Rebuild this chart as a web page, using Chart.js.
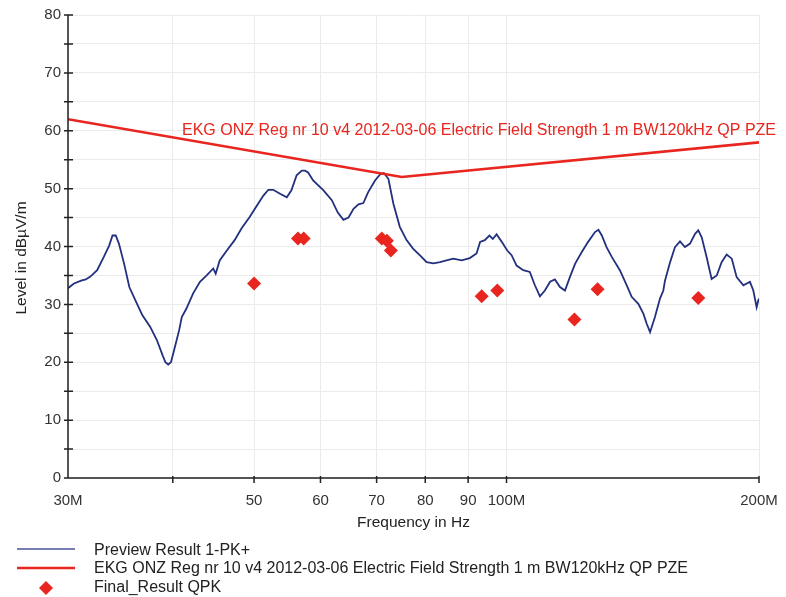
<!DOCTYPE html>
<html>
<head>
<meta charset="utf-8">
<script src="https://cdn.jsdelivr.net/npm/chart.js@4/dist/chart.umd.min.js"></script>
<style>
  html, body { margin: 0; padding: 0; background: #fff; }
</style>
</head>
<body>
<canvas id="chart" width="786" height="597"></canvas>
<script>
// Preview Result 1-PK+ (MHz / dBuV/m)
const previewFreq = [
  30.0, 30.5, 31.1, 31.5, 31.9, 32.5, 33.1, 33.6, 33.9, 34.2, 34.5, 35.0, 35.5, 36.1, 36.8,
  37.6, 38.3, 38.9, 39.2, 39.5, 39.8, 40.1, 40.7, 41.0, 41.5, 42.3, 43.1, 43.9, 44.7, 45.0,
  45.5, 46.4, 47.4, 48.3, 49.4, 50.4, 51.3, 52.0, 52.7, 53.7, 54.7, 55.4, 56.2, 57.0, 57.5,
  58.0, 58.8, 60.5, 61.9, 62.9, 63.9, 64.8, 65.7, 66.6, 67.5, 68.4, 69.7, 70.7, 71.4, 72.3,
  73.3, 74.6, 76.0, 77.4, 78.8, 80.3, 81.8, 83.3, 84.8, 86.4, 88.4, 90.4, 92.1, 93.0, 94.2,
  95.4, 96.3, 97.3, 98.7, 100.2, 101.4, 102.8, 104.7, 106.6, 108.1, 109.6, 111.1, 112.7, 114.2, 115.8,
  117.4, 119.0, 120.7, 122.9, 125.1, 127.5, 128.7, 129.9, 131.6, 133.5, 136.5, 139.1, 141.0, 143.6, 145.6,
  146.9, 148.3, 150.3, 152.4, 153.8, 154.5, 156.7, 158.8, 161.0, 163.2, 165.5, 167.8, 169.3, 170.9, 173.2,
  175.6, 178.1, 180.5, 183.0, 185.6, 188.1, 191.6, 195.1, 196.9, 198.7, 199.6, 200.0
];
const previewLevel = [
  32.8, 33.6, 34.1, 34.3, 34.8, 35.9, 38.2, 40.2, 41.9, 41.9, 40.5, 37.0, 33.0, 30.7, 28.1,
  26.1, 23.8, 21.2, 20.0, 19.6, 20.0, 21.8, 25.5, 27.8, 29.2, 31.9, 33.9, 35.0, 36.2, 35.3,
  37.6, 39.3, 41.1, 43.1, 45.1, 47.1, 48.8, 49.8, 49.8, 49.1, 48.5, 49.7, 52.3, 53.1, 53.1,
  52.8, 51.4, 49.7, 48.0, 45.9, 44.6, 45.0, 46.5, 47.3, 47.5, 49.4, 51.4, 52.5, 52.7, 51.7,
  47.4, 43.4, 41.1, 39.6, 38.5, 37.3, 37.1, 37.3, 37.6, 37.9, 37.6, 38.0, 38.8, 40.8, 41.1,
  41.9, 41.3, 42.1, 40.8, 39.3, 38.5, 36.7, 35.9, 35.6, 33.3, 31.4, 32.4, 33.9, 34.3, 33.0,
  32.4, 34.7, 37.0, 39.0, 40.8, 42.5, 42.9, 41.9, 39.9, 38.2, 35.9, 33.3, 31.3, 30.1, 28.4,
  26.7, 25.2, 27.8, 31.0, 32.4, 34.1, 37.3, 39.9, 40.9, 39.9, 40.5, 42.2, 42.8, 41.6, 38.2,
  34.4, 35.0, 37.3, 38.6, 37.9, 34.7, 33.3, 33.9, 32.4, 29.5, 30.7, 31.0
];

// limit line
const limitFreq = [30, 75, 200];
const limitLevel = [62, 52, 58];

// Final_Result QPK
const finalFreq = [50.0, 56.4, 57.3, 71.0, 72.0, 72.8, 93.4, 97.5, 120.5, 128.4, 169.3];
const finalLevel = [33.6, 41.4, 41.4, 41.4, 41.0, 39.3, 31.4, 32.4, 27.4, 32.6, 31.1];

const xTicks = [30, 40, 50, 60, 70, 80, 90, 100, 200];
const xTickLabels = ['30M', '', '50', '60', '70', '80', '90', '100M', '200M'];

const previewName = 'Preview Result 1-PK+';
const limitName = 'EKG ONZ Reg nr 10 v4 2012-03-06 Electric Field Strength 1 m BW120kHz QP PZE';
const finalName = 'Final_Result QPK';

const FONT = '"Liberation Sans", Arial, sans-serif';
const BLUE = '#22307e';
const RED = '#e8251e';

const toXY = (xs, ys) => xs.map((x, i) => ({ x: x, y: ys[i] }));

const decor = {
  id: 'decor',
  afterDraw(chart) {
    const ctx = chart.ctx;
    const a = chart.chartArea;
    const xs = chart.scales.x, ys = chart.scales.y;
    ctx.save();

    // axes with crossing ticks
    ctx.strokeStyle = '#222';
    ctx.lineWidth = 1.5;
    ctx.beginPath();
    ctx.moveTo(a.left, a.top);
    ctx.lineTo(a.left, a.bottom);
    ctx.lineTo(a.right, a.bottom);
    for (let v = 0; v <= 80; v += 5) {
      const py = ys.getPixelForValue(v);
      ctx.moveTo(a.left - 4, py);
      ctx.lineTo(a.left + 5, py);
    }
    xTicks.slice(1).forEach(v => {
      const px = xs.getPixelForValue(v);
      ctx.moveTo(px, a.bottom - 2);
      ctx.lineTo(px, a.bottom + 5);
    });
    ctx.stroke();

    // axis titles
    ctx.fillStyle = '#222';
    ctx.font = '15.5px ' + FONT;
    ctx.textAlign = 'center';
    ctx.textBaseline = 'middle';
    ctx.fillText('Frequency in Hz', (a.left + a.right) / 2, 523);
    ctx.save();
    ctx.translate(22, 258);
    ctx.rotate(-Math.PI / 2);
    ctx.fillText('Level in dBµV/m', 0, 0);
    ctx.restore();

    // limit label
    ctx.fillStyle = RED;
    ctx.font = '16px ' + FONT;
    ctx.textAlign = 'right';
    ctx.fillText(limitName, a.right + 17, ys.getPixelForValue(60.1));

    // legend
    const rows = [551, 569, 588];
    ctx.font = '16px ' + FONT;
    ctx.textAlign = 'left';
    ctx.fillStyle = '#222';
    ctx.fillText(previewName, 94, rows[0]);
    ctx.fillText(limitName, 94, rows[1]);
    ctx.fillText(finalName, 94, rows[2]);
    ctx.lineWidth = 1.5;
    ctx.strokeStyle = '#4a5296';
    ctx.beginPath(); ctx.moveTo(17, rows[0] - 2); ctx.lineTo(75, rows[0] - 2); ctx.stroke();
    ctx.lineWidth = 2.5;
    ctx.strokeStyle = RED;
    ctx.beginPath(); ctx.moveTo(17, rows[1] - 1); ctx.lineTo(75, rows[1] - 1); ctx.stroke();
    ctx.fillStyle = RED;
    ctx.beginPath();
    ctx.moveTo(46, rows[2] - 7); ctx.lineTo(53, rows[2]);
    ctx.lineTo(46, rows[2] + 7); ctx.lineTo(39, rows[2]);
    ctx.closePath(); ctx.fill();
    ctx.restore();
  }
};

new Chart(document.getElementById('chart'), {
  type: 'line',
  data: {
    datasets: [{
      label: finalName,
      data: toXY(finalFreq, finalLevel),
      showLine: false,
      pointStyle: 'rectRot',
      pointRadius: 7,
      pointBackgroundColor: RED,
      pointBorderWidth: 0,
      order: 0
    }, {
      label: limitName,
      data: toXY(limitFreq, limitLevel),
      borderColor: RED,
      borderWidth: 2.6,
      pointRadius: 0,
      order: 1
    }, {
      label: previewName,
      data: toXY(previewFreq, previewLevel),
      borderColor: BLUE,
      borderWidth: 1.8,
      pointRadius: 0,
      tension: 0,
      order: 2
    }]
  },
  options: {
    responsive: false,
    animation: false,
    devicePixelRatio: 1,
    layout: { padding: { top: 15, right: 27, bottom: 87, left: 0 } },
    plugins: { legend: { display: false }, tooltip: { enabled: false } },
    scales: {
      x: {
        type: 'logarithmic',
        min: 30,
        max: 200,
        afterBuildTicks: s => { s.ticks = xTicks.map(v => ({ value: v })); },
        afterFit: s => { s.height = 32; s.paddingLeft = 0; s.paddingRight = 0; },
        ticks: {
          autoSkip: false,
          maxRotation: 0,
          padding: 14,
          color: '#333',
          font: { size: 15, family: FONT },
          callback: (v, i) => xTickLabels[i]
        },
        grid: { color: '#ebebeb', drawTicks: false },
        border: { display: false }
      },
      y: {
        min: 0,
        max: 80,
        afterFit: s => { s.width = 68; s.paddingTop = 0; s.paddingBottom = 0; },
        ticks: {
          stepSize: 5,
          padding: 7,
          color: '#333',
          font: { size: 15, family: FONT },
          callback: v => (v % 10 === 0 ? v : '')
        },
        grid: { color: '#ebebeb', drawTicks: false },
        border: { display: false }
      }
    }
  },
  plugins: [decor]
});
</script>
</body>
</html>
